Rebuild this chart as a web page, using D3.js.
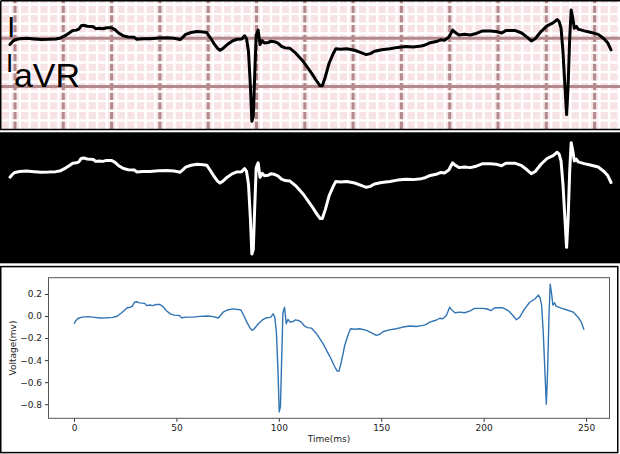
<!DOCTYPE html>
<html>
<head>
<meta charset="utf-8">
<script src="https://cdn.jsdelivr.net/npm/d3@7"></script>
<style>
  html, body { margin: 0; padding: 0; background: #fff; }
  svg { display: block; }
</style>
</head>
<body>
<div id="chart"></div>
<script>
// ECG sample: time (ms) and voltage (mV)
var timeMs = [0, 1, 2, 4, 7, 10, 13, 16, 19, 21, 23, 24.5, 26, 27.5, 28.5, 29.5, 30.5, 32, 34.5, 35.5,
  37, 38.5, 40, 42, 43.5, 45, 47, 49, 51.5, 52.5, 55, 58, 61.5, 65, 68, 70.5, 71.3, 72.8, 75, 77.5,
  80, 81.5, 83, 84.5, 86, 87, 88, 90, 92, 94, 96, 97.2, 98, 98.8, 99.6, 100.2, 100.8, 101.3, 102, 102.8,
  103.6, 104.5, 105.4, 107, 108, 109.5, 111, 112.5, 114, 116, 118.4, 121.6, 125, 127.3, 128.5, 129.4, 130.6, 132.2, 134, 135,
  137, 139.5, 142.8, 146, 147.6, 149.3, 151, 154, 157.4, 160.6, 164, 167, 170.4, 172, 173.7, 177, 178.5, 180, 181.8, 183.4,
  184.2, 186, 188.3, 190.7, 193.2, 195.6, 199, 201.3, 203.7, 205.4, 209.4, 212, 214.3, 216, 217.6, 220, 222.5, 225, 226.7, 227.5,
  228.3, 229.1, 230, 230.6, 231.2, 231.9, 232.5, 233.2, 233.8, 234.6, 235.4, 237.9, 240.4, 243.7, 246.1, 247.7, 249];
var voltageMv = [-0.07, -0.04, -0.02, -0.01, -0.005, -0.012, -0.018, -0.016, -0.012, -0.002, 0.025, 0.05, 0.075, 0.08, 0.09, 0.125, 0.13, 0.12, 0.115, 0.095,
  0.1, 0.095, 0.105, 0.105, 0.085, 0.05, 0.02, 0.008, 0.005, -0.015, -0.01, -0.01, -0.003, 0.0, -0.005, -0.018, 0.0, 0.035, 0.055, 0.065,
  0.06, 0.055, 0.0, -0.06, -0.11, -0.13, -0.115, -0.07, -0.035, -0.015, -0.012, 0.02, -0.01, -0.14, -0.5, -0.87, -0.82, -0.45, 0.03, 0.08,
  -0.07, -0.03, -0.055, -0.05, -0.035, -0.04, -0.055, -0.09, -0.105, -0.11, -0.16, -0.25, -0.37, -0.46, -0.5, -0.5, -0.41, -0.265, -0.16, -0.115,
  -0.12, -0.115, -0.13, -0.16, -0.175, -0.165, -0.14, -0.125, -0.115, -0.1, -0.09, -0.095, -0.085, -0.075, -0.055, -0.036, -0.02, -0.025, 0.005, 0.08,
  0.06, 0.03, 0.036, 0.03, 0.045, 0.07, 0.07, 0.066, 0.05, 0.075, 0.075, 0.05, 0.005, -0.033, -0.01, 0.065, 0.125, 0.155, 0.19, 0.17,
  0.1, -0.145, -0.54, -0.8, -0.52, 0.0, 0.29, 0.2, 0.1, 0.12, 0.09, 0.072, 0.057, 0.036, -0.01, -0.055, -0.125];

var xTicks = [0, 50, 100, 150, 200, 250];
var yTicks = [-0.8, -0.6, -0.4, -0.2, 0.0, 0.2];
var leadLabels = ["I", "aVR"];

var W = 620, H = 454;
var data = timeMs.map(function (t, i) { return { t: t, v: voltageMv[i] }; });

var svg = d3.select("#chart").append("svg")
    .attr("width", W)
    .attr("height", H);

svg.append("rect").attr("width", W).attr("height", H).attr("fill", "#fff");

// ---------- panel 1: ECG paper ----------
var paper = svg.append("g");
svg.append("clipPath").attr("id", "clipTop")
  .append("rect").attr("x", 0).attr("y", 0).attr("width", W).attr("height", 129.5);
paper.attr("clip-path", "url(#clipTop)");

paper.append("rect").attr("x", 0).attr("y", 0).attr("width", W).attr("height", 130)
    .attr("fill", "#f7e2e6");

var major = 48.3, minor = major / 5;
var vMajor = d3.range(15, W, major);
var hMajor = [38.3 - major, 38.3, 86.6, 86.6 + major];

paper.selectAll(".vmaj").data(vMajor).enter().append("line")
    .attr("x1", function (d) { return d; }).attr("x2", function (d) { return d; })
    .attr("y1", 0).attr("y2", 130)
    .attr("stroke", "#b38a8c").attr("stroke-width", 3);

// small-grid white lines
var smallX = d3.range(15 - major + minor / 2, W, minor);
var smallY = d3.range(38.3 - major + minor / 2, 130, minor);
paper.selectAll(".sx").data(smallX).enter().append("line")
    .attr("x1", function (d) { return d; }).attr("x2", function (d) { return d; })
    .attr("y1", 0).attr("y2", 130)
    .attr("stroke", "#fff").attr("stroke-width", 2.4);
paper.selectAll(".sy").data(smallY).enter().append("line")
    .attr("y1", function (d) { return d; }).attr("y2", function (d) { return d; })
    .attr("x1", 0).attr("x2", W)
    .attr("stroke", "#fff").attr("stroke-width", 2.4);

paper.selectAll(".hmaj").data(hMajor).enter().append("line")
    .attr("y1", function (d) { return d; }).attr("y2", function (d) { return d; })
    .attr("x1", 0).attr("x2", W)
    .attr("stroke", "#b38a8c").attr("stroke-width", 3);

var labelFont = "Liberation Sans, Arial, sans-serif";
paper.append("text").attr("x", 7).attr("y", 37)
    .style("font-family", labelFont).style("font-size", "30px")
    .text(leadLabels[0]);
paper.append("text").attr("x", 6).attr("y", 72)
    .style("font-family", labelFont).style("font-size", "26px")
    .text(leadLabels[0]);
paper.append("text").attr("x", 14).attr("y", 86.5)
    .attr("textLength", 66).attr("lengthAdjust", "spacingAndGlyphs")
    .style("font-family", labelFont).style("font-size", "33px")
    .text(leadLabels[1]);

var xs = d3.scaleLinear().domain([0, 249]).range([10, 611]);
var yTop = d3.scaleLinear().domain([0, 1]).range([37.8, 37.8 - 96]);
var yMid = d3.scaleLinear().domain([0, 1]).range([170.5, 170.5 - 96]);

paper.append("path").datum(data)
    .attr("fill", "none").attr("stroke", "#000").attr("stroke-width", 3)
    .attr("stroke-linejoin", "round").attr("stroke-linecap", "round")
    .attr("d", d3.line().x(function (d) { return xs(d.t); }).y(function (d) { return yTop(d.v); }));

svg.append("path")
    .attr("d", "M0.75,0.75V129.5H620M0.75,0.75H620")
    .attr("fill", "none").attr("stroke", "#000").attr("stroke-width", 1.5);

// ---------- panel 2: inverted trace ----------
svg.append("rect").attr("x", 0).attr("y", 132.3).attr("width", W).attr("height", 131)
    .attr("fill", "#000");
svg.append("path").datum(data)
    .attr("fill", "none").attr("stroke", "#fff").attr("stroke-width", 3)
    .attr("stroke-linejoin", "round").attr("stroke-linecap", "round")
    .attr("d", d3.line().x(function (d) { return xs(d.t); }).y(function (d) { return yMid(d.v); }));

// ---------- panel 3: matplotlib style plot ----------
svg.append("rect").attr("x", 0.75).attr("y", 266.6).attr("width", 617).attr("height", 186)
    .attr("fill", "#fff").attr("stroke", "#000").attr("stroke-width", 1.5);

var x = d3.scaleLinear().domain([-12.45, 261.45]).range([48.5, 609.5]);
var y = d3.scaleLinear().domain([-0.928, 0.348]).range([418.3, 277.7]);

var font = "DejaVu Sans, sans-serif";

var gx = svg.append("g").attr("transform", "translate(0,418.3)")
    .call(d3.axisBottom(x).tickValues(xTicks).tickSize(3.5).tickPadding(3).tickFormat(d3.format("d")));
var gy = svg.append("g").attr("transform", "translate(48.5,0)")
    .call(d3.axisLeft(y).tickValues(yTicks).tickSize(3.5).tickPadding(3).tickFormat(d3.format(".1f")));
[gx, gy].forEach(function (g) {
  g.select(".domain").remove();
  g.selectAll("line").attr("stroke", "#333");
  g.selectAll("text").style("font-family", font).style("font-size", "9px").attr("fill", "#222");
});

svg.append("path").datum(data)
    .attr("fill", "none").attr("stroke", "#3274b3").attr("stroke-width", 1.4)
    .attr("stroke-linejoin", "round")
    .attr("d", d3.line().x(function (d) { return x(d.t); }).y(function (d) { return y(d.v); }));

svg.append("rect").attr("x", 48.5).attr("y", 277.7).attr("width", 561).attr("height", 140.6)
    .attr("fill", "none").attr("stroke", "#555").attr("stroke-width", 1);

svg.append("text").attr("x", 329).attr("y", 442)
    .attr("text-anchor", "middle")
    .style("font-family", font).style("font-size", "9px").attr("fill", "#222")
    .text("Time(ms)");
svg.append("text")
    .attr("transform", "translate(16,348) rotate(-90)")
    .attr("text-anchor", "middle")
    .style("font-family", font).style("font-size", "9px").attr("fill", "#222")
    .text("Voltage(mv)");
</script>
</body>
</html>
